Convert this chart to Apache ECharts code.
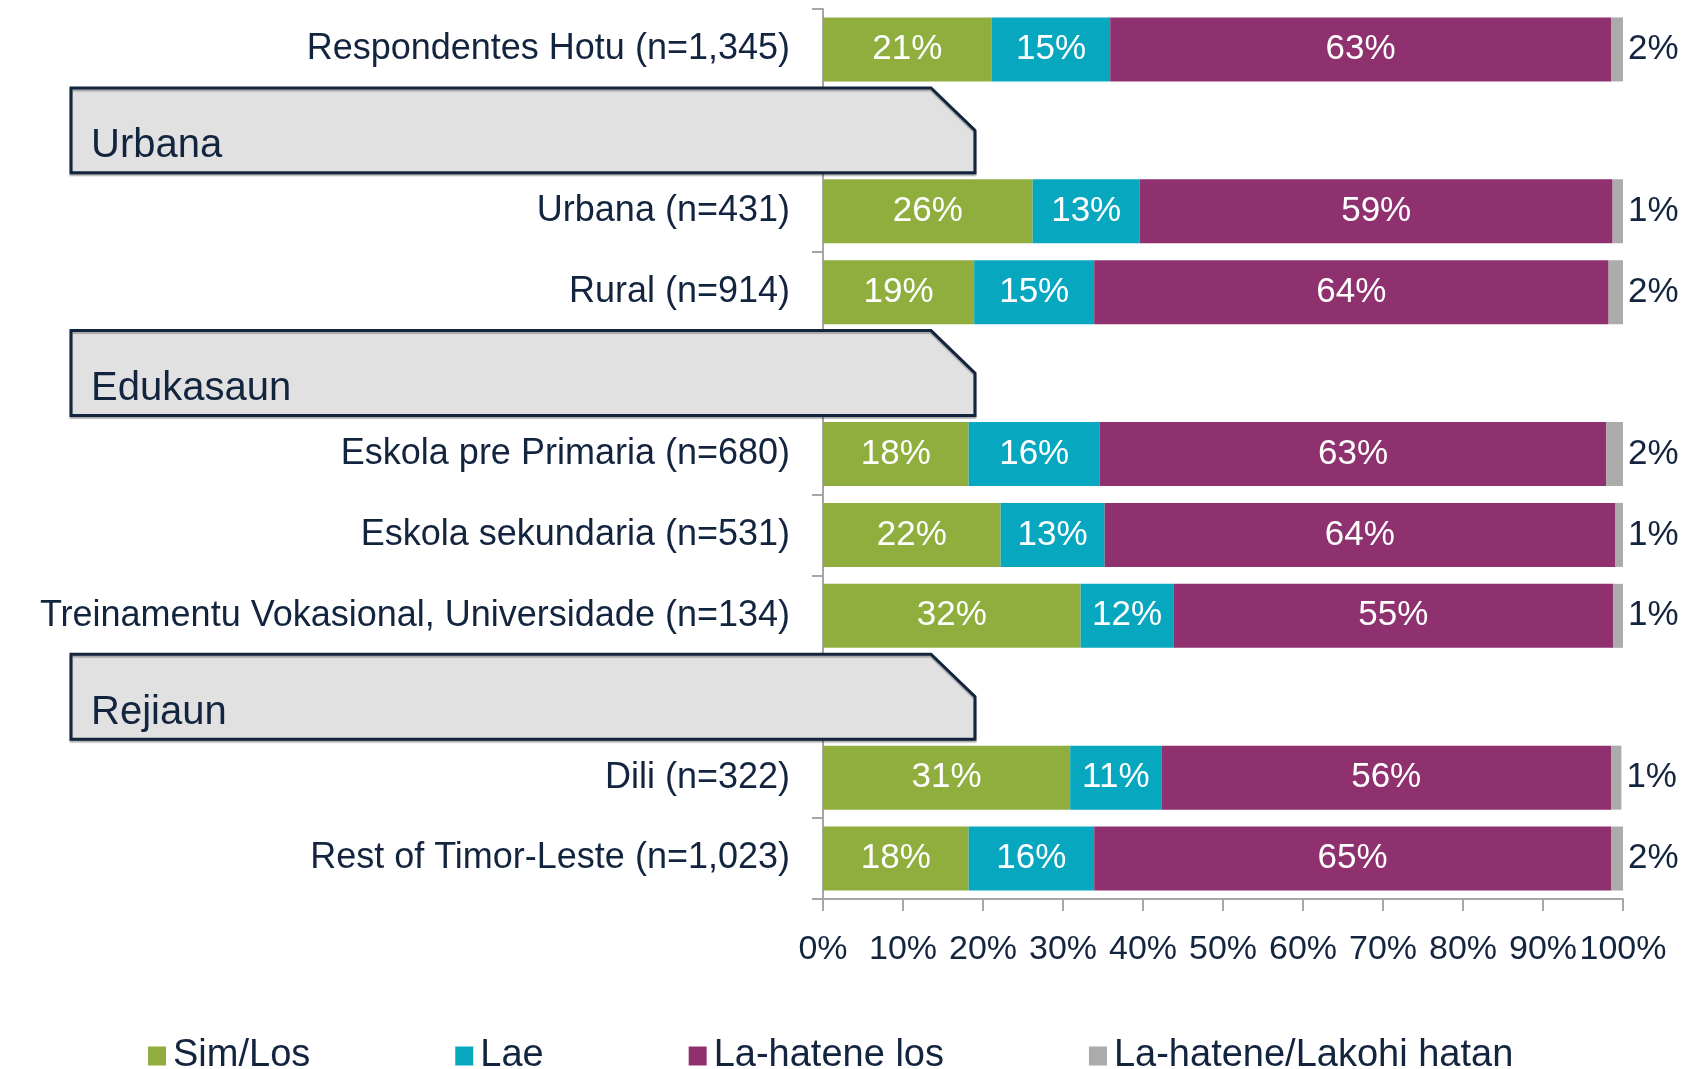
<!DOCTYPE html>
<html>
<head>
<meta charset="utf-8">
<script src="https://cdn.jsdelivr.net/npm/echarts@6/dist/echarts.min.js"></script>
<style>
html,body{margin:0;padding:0;background:#fff;}
#chart{width:1689px;height:1069px;}
</style>
</head>
<body>
<div id="chart"></div>
<script>
// ---- data ----
var categories = [
  'Respondentes Hotu (n=1,345)',
  'Urbana',
  'Urbana (n=431)',
  'Rural (n=914)',
  'Edukasaun',
  'Eskola pre Primaria (n=680)',
  'Eskola sekundaria (n=531)',
  'Treinamentu Vokasional, Universidade (n=134)',
  'Rejiaun',
  'Dili (n=322)',
  'Rest of Timor-Leste (n=1,023)'
];
var headers = ['Urbana', 'Edukasaun', 'Rejiaun'];
var seriesNames = ['Sim/Los', 'Lae', 'La-hatene los', 'La-hatene/Lakohi hatan'];
var simLos      = [21.1, null, 26.2, 18.9, null, 18.2, 22.2, 32.2, null, 30.9, 18.2];
var lae         = [14.8, null, 13.4, 15.0, null, 16.4, 13.0, 11.6, null, 11.4, 15.7];
var lahateneLos = [62.6, null, 59.1, 64.3, null, 63.3, 63.8, 55.0, null, 56.2, 64.6];
var lahateneLakohi = [1.6, null, 1.3, 1.8, null, 2.1, 1.1, 1.3, null, 1.3, 1.6];
var xTicks = [0, 10, 20, 30, 40, 50, 60, 70, 80, 90, 100];

// ---- chart ----
var NAVY = '#13243F';
var colors = ['#8FAE3E', '#08A7C0', '#8E316E', '#ABABAB'];
var FONT = '"Liberation Sans", Arial, sans-serif';
var chart = echarts.init(document.getElementById('chart'), null, {renderer: 'canvas'});

function barSeries(idx, data) {
  var isLast = idx === 3;
  return {
    name: seriesNames[idx],
    type: 'bar',
    stack: 'total',
    barWidth: 64,
    data: data,
    itemStyle: {color: colors[idx]},
    z: 2,
    label: {
      show: true,
      position: isLast ? 'right' : 'inside',
      distance: 5,
      color: isLast ? NAVY : '#ffffff',
      fontFamily: FONT,
      fontSize: 35,
      padding: [7, 0, 0, 0],
      formatter: function (p) { return p.value == null ? '' : Math.round(p.value) + '%'; }
    }
  };
}

var option = {
  animation: false,
  backgroundColor: '#ffffff',
  textStyle: {fontFamily: FONT},
  grid: {left: 823, right: 66, top: 9, bottom: 170, containLabel: false},
  legend: {
    data: seriesNames,
    left: 143,
    top: 1032,
    itemWidth: 18,
    itemHeight: 19,
    itemGap: 145,
    icon: 'rect',
    textStyle: {color: NAVY, fontSize: 38, fontFamily: FONT, padding: [0, 0, 0, 2]}
  },
  xAxis: {
    type: 'value',
    min: 0,
    max: 100,
    interval: 10,
    axisLine: {show: true, lineStyle: {color: '#A6A6A6', width: 2}},
    axisTick: {show: true, length: 12, lineStyle: {color: '#A6A6A6', width: 2}},
    splitLine: {show: false},
    axisLabel: {
      color: NAVY, fontSize: 34, fontFamily: FONT, margin: 34,
      showMaxLabel: true, showMinLabel: true, hideOverlap: false,
      formatter: function (v) { return xTicks.indexOf(v) >= 0 ? v + '%' : ''; }
    }
  },
  yAxis: {
    type: 'category',
    inverse: true,
    data: categories,
    axisLine: {show: true, lineStyle: {color: '#A6A6A6', width: 2}},
    axisTick: {show: true, length: 11, lineStyle: {color: '#A6A6A6', width: 2}},
    axisLabel: {
      color: NAVY, fontSize: 36, fontFamily: FONT, margin: 33,
      padding: [14, 0, 0, 0],
      formatter: function (v) { return headers.indexOf(v) >= 0 ? '' : v; }
    }
  },
  series: [
    barSeries(0, simLos),
    barSeries(1, lae),
    barSeries(2, lahateneLos),
    barSeries(3, lahateneLakohi),
    {
      type: 'custom',
      name: 'headers',
      clip: false,
      z: 10,
      silent: true,
      encode: {x: 0, y: 1},
      data: headers.map(function (h) { return [0, h]; }),
      renderItem: function (params, api) {
        var c = api.coord([0, api.value(1)]);
        var slot = api.size([0, 1])[1];
        var h = slot * 1.05;
        var top = c[1] - h / 2;
        var bot = c[1] + h / 2;
        var left = c[0] - 752;
        var right = c[0] + 152;
        var cut = 44;
        var name = headers[params.dataIndex];
        return {
          type: 'group',
          children: [
            {
              type: 'polygon',
              shape: {points: [[left, top], [right - cut, top], [right, top + h / 2], [right, bot], [left, bot]]},
              style: {fill: '#E1E1E1', stroke: NAVY, lineWidth: 3,
                      shadowColor: 'rgba(0,0,0,0.25)', shadowOffsetY: 2, shadowBlur: 1}
            },
            {
              type: 'text',
              x: left + 20,
              y: c[1] + 16,
              style: {text: name, fill: NAVY, fontSize: 40, fontFamily: FONT,
                      verticalAlign: 'middle', align: 'left'}
            }
          ]
        };
      }
    }
  ]
};
chart.setOption(option);
</script>
</body>
</html>
